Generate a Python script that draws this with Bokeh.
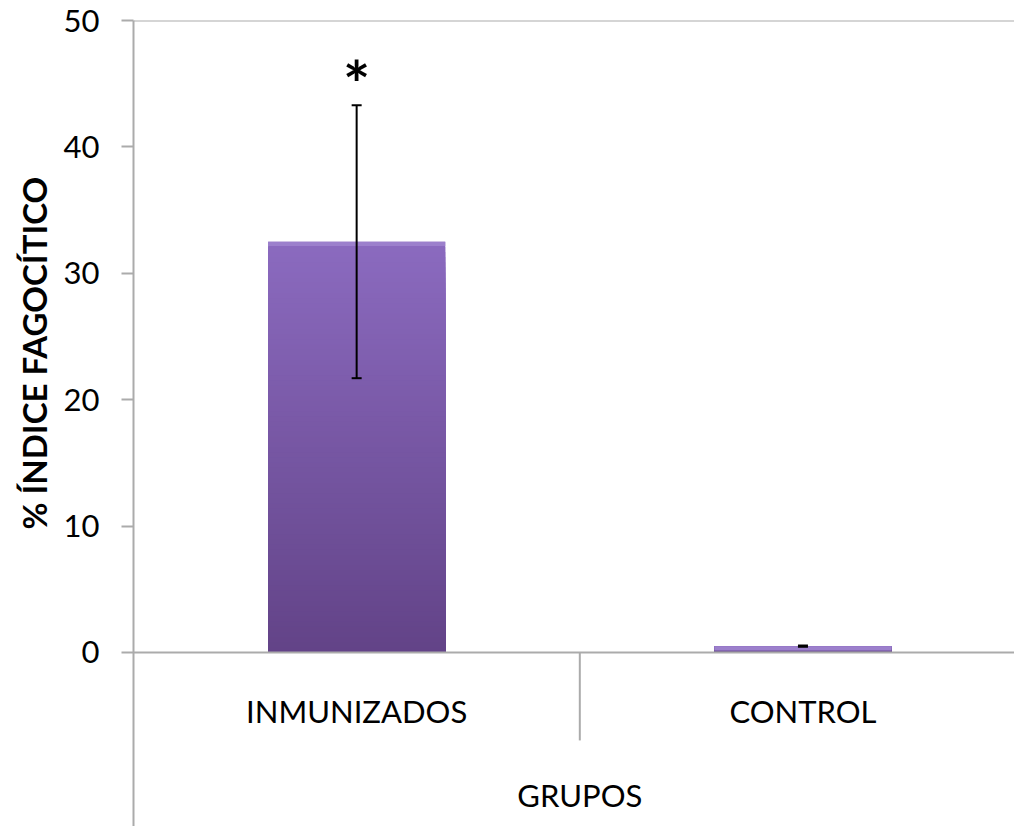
import numpy as np
from bokeh.plotting import figure
from bokeh.models import Range1d, FixedTicker, Span, Title, ColumnDataSource, Whisker, TeeHead
from bokeh.core.properties import value
from bokeh.embed import file_html
from bokeh.resources import INLINE

# ---- data ----
groups = ["INMUNIZADOS", "CONTROL"]
means = [32.5, 0.5]
errors = [10.8, 0.05]
signif = ["*", ""]
y_ticks = [0, 10, 20, 30, 40, 50]
x_title = "GRUPOS"
y_title = "% ÍNDICE FAGOCÍTICO"

FONT = "Lato"
AXIS_GRAY = "#ababab"
TOP_COLOR = np.array([0x8b, 0x6a, 0xbf])
BOT_COLOR = np.array([0x62, 0x43, 0x87])

p = figure(width=1014, height=826, output_backend="svg", toolbar_location=None,
           x_range=Range1d(0, 1.974), y_range=Range1d(-13.77, 50),
           x_axis_location=None,
           min_border_left=133, min_border_right=0, min_border_top=20, min_border_bottom=0)
p.outline_line_color = None
p.background_fill_color = "white"
p.border_fill_color = "white"
p.grid.grid_line_color = None

ax = p.yaxis[0]
ax.ticker = FixedTicker(ticks=y_ticks)
ax.minor_tick_line_color = None
ax.major_tick_in = 0
ax.major_tick_out = 12
ax.axis_line_color = AXIS_GRAY
ax.axis_line_width = 2
ax.major_tick_line_color = AXIS_GRAY
ax.major_tick_line_width = 2
ax.major_label_text_font = FONT
ax.major_label_text_font_size = "31px"
ax.major_label_text_color = "black"
ax.major_label_standoff = 22

# y title as a left-side title (outside the axis)
p.add_layout(Title(text=y_title, text_font=FONT, text_font_size="33px",
                   text_font_style="bold", text_color="black",
                   align="left", offset=297, standoff=14), "left")

# top line and baseline
p.add_layout(Span(location=y_ticks[-1], dimension="width", line_color=AXIS_GRAY, line_width=2))
p.add_layout(Span(location=0, dimension="width", line_color=AXIS_GRAY, line_width=2))

# category separators
seps = [i + 1 for i in range(len(groups) - 1)]
p.segment(x0=seps, y0=[0] * len(seps), x1=seps, y1=[-6.96] * len(seps),
          line_color=AXIS_GRAY, line_width=2)

# gradient bars
xs = [i + 0.5 for i in range(len(groups))]
n = 80
for xc, m in zip(xs, means):
    tops = np.linspace(m, 0, n, endpoint=False)
    cols = []
    for t in tops:
        f = t / m
        c = BOT_COLOR + (TOP_COLOR - BOT_COLOR) * f
        cols.append("#%02x%02x%02x" % tuple(int(round(v)) for v in c))
    p.vbar(x=[xc] * n, width=0.397, bottom=0, top=tops, fill_color=cols, line_color=None)
    # bevel highlight at top
    p.vbar(x=[xc], width=0.397, bottom=[max(m - 0.35, 0)], top=[m],
           fill_color="#9c80cc", line_color=None)

# error bars
src = ColumnDataSource(dict(x=xs, upper=[m + e for m, e in zip(means, errors)],
                            lower=[m - e for m, e in zip(means, errors)]))
wh = Whisker(source=src, base="x", upper="upper", lower="lower", dimension="height",
             line_color="black", line_width=2, level="annotation",
             upper_head=TeeHead(size=10, line_color="black", line_width=2),
             lower_head=TeeHead(size=10, line_color="black", line_width=2))
p.add_layout(wh)

# significance marks
p.text(x=xs, y=[m + e + 1.75 for m, e in zip(means, errors)], text=signif,
       text_font=value(FONT), text_font_size="64px", text_font_style="bold",
       text_align="center", text_baseline="alphabetic", text_color="black")

# category labels
p.text(x=xs, y=[-4.62] * len(xs), text=groups, text_font=value(FONT),
       text_font_size="31px", text_align="center", text_baseline="alphabetic",
       text_color="black")

# x title
p.text(x=[len(groups) / 2], y=[-11.31], text=[x_title], text_font=value(FONT),
       text_font_size="31px", text_align="center", text_baseline="alphabetic",
       text_color="black")

open("out.html", "w").write(file_html(p, INLINE))
